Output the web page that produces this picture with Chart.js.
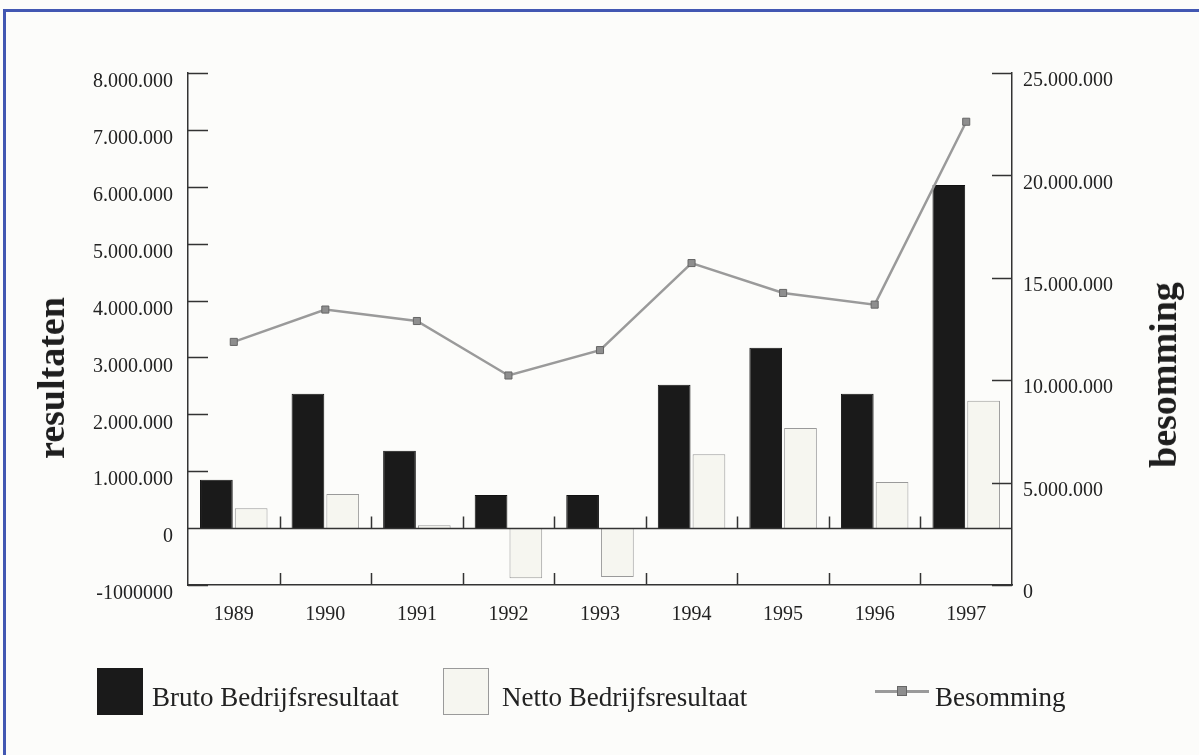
<!DOCTYPE html>
<html lang="nl">
<head>
    <meta charset="UTF-8">
    <title>Bedrijfsresultaat en besomming 1989-1997</title>
    <script src="https://cdn.jsdelivr.net/npm/chart.js@4.4.0/dist/chart.umd.min.js"></script>
    <style>
        html, body { margin: 0; padding: 0; }
        body { width: 1199px; height: 755px; background: #fcfcfa; position: relative; overflow: hidden; font-family: "Liberation Serif", "DejaVu Serif", serif; color: #222; }
        .frame { position: absolute; left: 3px; top: 9px; width: 1250px; height: 800px; border-left: 3px solid #4257b2; border-top: 3px solid #4257b2; }
        canvas { position: absolute; left: 0; top: 0; }
        .axis-title { position: absolute; font-size: 38px; font-weight: bold; white-space: nowrap; transform: translate(-50%, -50%) rotate(-90deg); color: #1e1e1e; }
        .legend-box { position: absolute; top: 668px; width: 46px; height: 47px; box-sizing: border-box; }
        .legend-text { position: absolute; top: 682px; font-size: 27px; line-height: 30px; white-space: nowrap; color: #222; }
        .legend-line { position: absolute; left: 875px; top: 690px; width: 54px; height: 3px; background: #9a9a9a; }
        .legend-mark { position: absolute; left: 897px; top: 686px; width: 10px; height: 10px; background: #8e8e8e; border: 1px solid #666; box-sizing: border-box; }
    </style>
</head>
<body>
    <div class="frame"></div>
    <canvas id="chart" width="1199" height="755"></canvas>
    <div class="axis-title" style="left: 51px; top: 378px;">resultaten</div>
    <div class="axis-title" style="left: 1163px; top: 375px;">besomming</div>

    <div class="legend-box" style="left: 97px; background: #1a1a1a;"></div>
    <div class="legend-text" style="left: 152px;">Bruto Bedrijfsresultaat</div>
    <div class="legend-box" style="left: 443px; background: #f6f6f0; border: 1px solid #9a9a9a;"></div>
    <div class="legend-text" style="left: 502px;">Netto Bedrijfsresultaat</div>
    <div class="legend-line"></div>
    <div class="legend-mark"></div>
    <div class="legend-text" style="left: 935px;">Besomming</div>

    <script>
        // data
        const years = ['1989', '1990', '1991', '1992', '1993', '1994', '1995', '1996', '1997'];
        const bruto = [850000, 2360000, 1360000, 580000, 580000, 2520000, 3170000, 2360000, 6030000];
        const netto = [350000, 600000, 50000, -880000, -860000, 1300000, 1760000, 810000, 2240000];
        const besomming = [11870000, 13450000, 12890000, 10230000, 11470000, 15720000, 14260000, 13690000, 22620000];

        const leftTickLabels = ['-1000000', '0', '1.000.000', '2.000.000', '3.000.000', '4.000.000',
            '5.000.000', '6.000.000', '7.000.000', '8.000.000'];
        const rightTickLabels = ['0', '5.000.000', '10.000.000', '15.000.000', '20.000.000', '25.000.000'];

        const axisColor = '#333';
        const tickFont = { family: '"Liberation Serif", serif', size: 20 };

        // inward ticks, zero line and category separators
        const axisMarks = {
            id: 'axisMarks',
            afterDatasetsDraw(chart) {
                const { ctx, chartArea, scales } = chart;
                const { left, right, bottom } = chartArea;
                ctx.save();
                ctx.strokeStyle = axisColor;
                ctx.lineWidth = 1.5;
                ctx.beginPath();
                scales.y.ticks.forEach(t => {
                    const py = Math.round(scales.y.getPixelForValue(t.value)) + 0.5;
                    ctx.moveTo(left, py);
                    ctx.lineTo(left + 20, py);
                });
                scales.y2.ticks.forEach(t => {
                    const py = Math.round(scales.y2.getPixelForValue(t.value)) + 0.5;
                    ctx.moveTo(right, py);
                    ctx.lineTo(right - 20, py);
                });
                const zeroY = Math.round(scales.y.getPixelForValue(0)) + 0.5;
                ctx.moveTo(left, zeroY);
                ctx.lineTo(right, zeroY);
                for (let i = 0; i < years.length - 1; i++) {
                    const bx = Math.round((scales.x.getPixelForValue(i) + scales.x.getPixelForValue(i + 1)) / 2) + 0.5;
                    ctx.moveTo(bx, zeroY);
                    ctx.lineTo(bx, zeroY - 12);
                    ctx.moveTo(bx, bottom);
                    ctx.lineTo(bx, bottom - 12);
                }
                ctx.stroke();
                ctx.restore();
            }
        };

        new Chart(document.getElementById('chart'), {
            type: 'bar',
            data: {
                labels: years,
                datasets: [
                    {
                        type: 'line',
                        label: 'Besomming',
                        data: besomming,
                        yAxisID: 'y2',
                        order: 0,
                        borderColor: '#9a9a9a',
                        borderWidth: 2.5,
                        tension: 0,
                        pointStyle: 'rect',
                        pointRadius: 5,
                        pointBackgroundColor: '#8e8e8e',
                        pointBorderColor: '#666',
                        pointBorderWidth: 1
                    },
                    {
                        label: 'Bruto Bedrijfsresultaat',
                        data: bruto,
                        yAxisID: 'y',
                        order: 1,
                        backgroundColor: '#1a1a1a',
                        borderColor: '#111',
                        borderWidth: 1,
                        categoryPercentage: 0.76,
                        barPercentage: 0.94
                    },
                    {
                        label: 'Netto Bedrijfsresultaat',
                        data: netto,
                        yAxisID: 'y',
                        order: 1,
                        backgroundColor: '#f6f6f0',
                        borderColor: '#9a9a9a',
                        borderWidth: 1,
                        categoryPercentage: 0.76,
                        barPercentage: 0.94
                    }
                ]
            },
            options: {
                responsive: false,
                animation: false,
                layout: { padding: { left: 40, right: 40, top: 73, bottom: 120 } },
                plugins: { legend: { display: false }, tooltip: { enabled: false } },
                scales: {
                    x: {
                        grid: { display: false },
                        border: { display: true, color: axisColor, width: 1.5 },
                        ticks: { color: '#222', font: tickFont, padding: 10, maxRotation: 0 },
                        afterFit: s => { s.height = 50; }
                    },
                    y: {
                        position: 'left',
                        min: -1000000,
                        max: 8000000,
                        grid: { display: false },
                        border: { display: true, color: axisColor, width: 1.5 },
                        ticks: {
                            stepSize: 1000000,
                            color: '#222',
                            font: tickFont,
                            padding: 7,
                            labelOffset: 9,
                            callback: (v, i) => leftTickLabels[i]
                        },
                        afterFit: s => { s.width = 148; }
                    },
                    y2: {
                        position: 'right',
                        min: 0,
                        max: 25000000,
                        grid: { display: false },
                        border: { display: true, color: axisColor, width: 1.5 },
                        ticks: {
                            stepSize: 5000000,
                            color: '#222',
                            font: tickFont,
                            padding: 3,
                            labelOffset: 8,
                            callback: (v, i) => rightTickLabels[i]
                        },
                        afterFit: s => { s.width = 147; }
                    }
                }
            },
            plugins: [axisMarks]
        });
    </script>
</body>
</html>
